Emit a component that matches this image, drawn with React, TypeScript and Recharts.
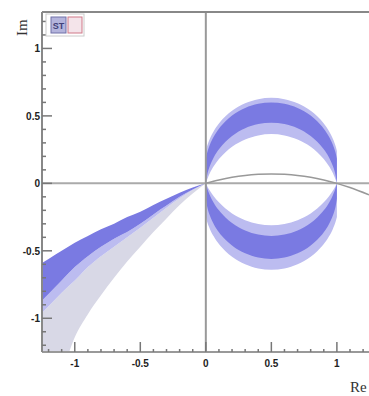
import React from 'react';
import {Area, ComposedChart, Line, ReferenceLine, XAxis, YAxis} from 'recharts';

// left branch (x < 0)
const leftX = [-1.25, -1.2, -1.1, -1.0, -0.9, -0.8, -0.7, -0.6, -0.5, -0.4, -0.3, -0.2, -0.1, 0];
const darkTop = [-0.59, -0.56, -0.5, -0.44, -0.39, -0.34, -0.3, -0.25, -0.21, -0.16, -0.115, -0.07, -0.03, 0];
const darkBottom = [-0.87, -0.82, -0.72, -0.62, -0.54, -0.47, -0.41, -0.36, -0.3, -0.23, -0.165, -0.1, -0.045, 0];
const lightBottom = [-0.96, -0.91, -0.81, -0.72, -0.62, -0.54, -0.47, -0.4, -0.33, -0.255, -0.18, -0.11, -0.05, 0];
const grayBottom = [-1.6, -1.55, -1.4, -1.14, -0.97, -0.83, -0.7, -0.58, -0.47, -0.36, -0.26, -0.16, -0.075, 0];

// circle (0 <= x <= 1)
const circleX = [0, 0.01, 0.03, 0.06, 0.1, 0.15, 0.2, 0.3, 0.4, 0.5, 0.6, 0.7, 0.8, 0.85, 0.9, 0.94, 0.97, 0.99, 1];
const topLightOuter = [0.24, 0.276, 0.329, 0.386, 0.443, 0.497, 0.538, 0.594, 0.624, 0.634, 0.624, 0.594, 0.538, 0.497, 0.443, 0.386, 0.329, 0.276, 0.24];
const topLightInner = [0, 0.028, 0.074, 0.126, 0.18, 0.231, 0.271, 0.325, 0.355, 0.365, 0.355, 0.325, 0.271, 0.231, 0.18, 0.126, 0.074, 0.028, 0];
const topDarkOuter = [0.183, 0.227, 0.285, 0.346, 0.405, 0.46, 0.502, 0.559, 0.59, 0.6, 0.59, 0.559, 0.502, 0.46, 0.405, 0.346, 0.285, 0.227, 0.183];
const topDarkInner = [0, 0.06, 0.126, 0.191, 0.252, 0.308, 0.351, 0.409, 0.44, 0.45, 0.44, 0.409, 0.351, 0.308, 0.252, 0.191, 0.126, 0.06, 0];
const botLightOuter = [-0.25, -0.285, -0.336, -0.393, -0.45, -0.503, -0.544, -0.6, -0.631, -0.64, -0.631, -0.6, -0.544, -0.503, -0.45, -0.393, -0.336, -0.285, -0.25];
const botLightInner = [0, -0.019, -0.053, -0.095, -0.141, -0.187, -0.223, -0.273, -0.301, -0.31, -0.301, -0.273, -0.223, -0.187, -0.141, -0.095, -0.053, -0.019, 0];
const botDarkOuter = [-0.114, -0.171, -0.236, -0.301, -0.362, -0.418, -0.461, -0.519, -0.55, -0.56, -0.55, -0.519, -0.461, -0.418, -0.362, -0.301, -0.236, -0.171, -0.114];
const botDarkInner = [0, -0.035, -0.086, -0.143, -0.2, -0.253, -0.294, -0.35, -0.38, -0.39, -0.38, -0.35, -0.294, -0.253, -0.2, -0.143, -0.086, -0.035, 0];

// thin gray curve
const curveX = [0, 0.1, 0.2, 0.3, 0.4, 0.5, 0.6, 0.7, 0.8, 0.9, 1, 1.1, 1.245];
const curveY = [0, 0.025, 0.045, 0.059, 0.067, 0.07, 0.067, 0.059, 0.045, 0.025, 0, -0.031, -0.085];

const xTicks = [-1.2, -1.1, -1, -0.9, -0.8, -0.7, -0.6, -0.5, -0.4, -0.3, -0.2, -0.1, 0, 0.1, 0.2, 0.3, 0.4, 0.5, 0.6, 0.7, 0.8, 0.9, 1, 1.1, 1.2];
const yTicks = [-1.2, -1.1, -1, -0.9, -0.8, -0.7, -0.6, -0.5, -0.4, -0.3, -0.2, -0.1, 0, 0.1, 0.2, 0.3, 0.4, 0.5, 0.6, 0.7, 0.8, 0.9, 1, 1.1, 1.2];

const rows = new Map<number, any>();
const row = (x: number) => {
    if (!rows.has(x)) rows.set(x, {x});
    return rows.get(x);
};
leftX.forEach((x, i) => {
    const r = row(x);
    r.dark = [darkBottom[i], darkTop[i]];
    r.light = [lightBottom[i], darkBottom[i]];
    r.gray = [grayBottom[i], lightBottom[i]];
});
circleX.forEach((x, i) => {
    const r = row(x);
    r.tl = [topLightInner[i], topLightOuter[i]];
    r.td = [topDarkInner[i], topDarkOuter[i]];
    r.bl = [botLightOuter[i], botLightInner[i]];
    r.bd = [botDarkOuter[i], botDarkInner[i]];
});
curveX.forEach((x, i) => {
    row(x).curve = curveY[i];
});
const data = [...rows.values()].sort((a, b) => a.x - b.x);

const isMajor = (v: number) => Math.abs(v * 2 - Math.round(v * 2)) < 1e-6;
const labelFont = {fontFamily: 'Liberation Sans, Arial, sans-serif', fontSize: 10, fontWeight: 700, fill: '#222'};

const XTick = (props: any) => {
    const {x, y, payload} = props;
    const v = payload.value;
    const major = isMajor(v);
    return (
        <g>
            <line x1={x} x2={x} y1={y} y2={y - (major ? 10 : 3)} stroke="#777" strokeWidth={1.5}/>
            {major && <text x={x} y={y + 15} textAnchor="middle" {...labelFont}>{String(v)}</text>}
        </g>
    );
};

const YTick = (props: any) => {
    const {x, y, payload} = props;
    const v = payload.value;
    const major = isMajor(v);
    return (
        <g>
            <line x1={x} x2={x + (major ? 10 : 4)} y1={y} y2={y} stroke="#777" strokeWidth={1.5}/>
            {major && <text x={x - 2} y={y + 4} textAnchor="end" {...labelFont}>{String(v)}</text>}
        </g>
    );
};

const DARK = '#7a7ae2';
const LIGHT = '#bcbcf0';
const GRAY = '#d8d8e6';

export default function App() {
    return (
        <div style={{position: 'absolute', left: 0, top: 0, width: 369, height: 396, background: '#fff', overflow: 'hidden'}}>
            <ComposedChart width={369} height={396} data={data} margin={{top: 12, right: 0, bottom: 14, left: 0}}>
                <XAxis
                    type="number"
                    dataKey="x"
                    domain={[-1.25, 1.245]}
                    allowDataOverflow
                    ticks={xTicks}
                    interval={0}
                    tick={<XTick/>}
                    tickLine={false}
                    tickSize={0}
                    tickMargin={0}
                    height={30}
                    axisLine={{stroke: '#999', strokeWidth: 2}}
                />
                <YAxis
                    type="number"
                    domain={[-1.25, 1.27]}
                    allowDataOverflow
                    ticks={yTicks}
                    interval={0}
                    tick={<YTick/>}
                    tickLine={false}
                    tickSize={0}
                    tickMargin={0}
                    width={42}
                    axisLine={{stroke: '#888', strokeWidth: 2}}
                />
                <Area dataKey="gray" type="monotone" stroke="none" fill={GRAY} fillOpacity={1} isAnimationActive={false}/>
                <Area dataKey="light" type="monotone" stroke="none" fill={LIGHT} fillOpacity={1} isAnimationActive={false}/>
                <Area dataKey="dark" type="monotone" stroke="none" fill={DARK} fillOpacity={1} isAnimationActive={false}/>
                <Area dataKey="tl" type="monotone" stroke="none" fill={LIGHT} fillOpacity={1} isAnimationActive={false}/>
                <Area dataKey="bl" type="monotone" stroke="none" fill={LIGHT} fillOpacity={1} isAnimationActive={false}/>
                <Area dataKey="td" type="monotone" stroke="none" fill={DARK} fillOpacity={1} isAnimationActive={false}/>
                <Area dataKey="bd" type="monotone" stroke="none" fill={DARK} fillOpacity={1} isAnimationActive={false}/>
                <ReferenceLine y={0} stroke="#aaa" strokeWidth={2}/>
                <ReferenceLine x={0} stroke="#999" strokeWidth={2}/>
                <ReferenceLine y={1.27} stroke="#888" strokeWidth={2}/>
                <Line dataKey="curve" type="monotone" stroke="#999" strokeWidth={1.5} dot={false} connectNulls isAnimationActive={false}/>
            </ComposedChart>
            <svg width={369} height={396} style={{position: 'absolute', left: 0, top: 0, pointerEvents: 'none'}}>
                <text transform="translate(27,36) rotate(-90)" fontFamily="Liberation Serif, serif" fontSize={15} fill="#333">Im</text>
                <text x={350} y={392} fontFamily="Liberation Serif, serif" fontSize={15} fill="#333">Re</text>
                <rect x={46} y={14} width={38} height={22} fill="#fff" stroke="#ccc"/>
                <rect x={51} y={17} width={15} height={16} fill="#b4b4dc" stroke="#7070a8"/>
                <text x={58.5} y={29} textAnchor="middle" fontFamily="Liberation Sans, sans-serif" fontSize={9} fontWeight={700} fill="#404078">ST</text>
                <rect x={68} y={17} width={14} height={16} fill="#f4e4ea" stroke="#d07888"/>
            </svg>
        </div>
    );
}
